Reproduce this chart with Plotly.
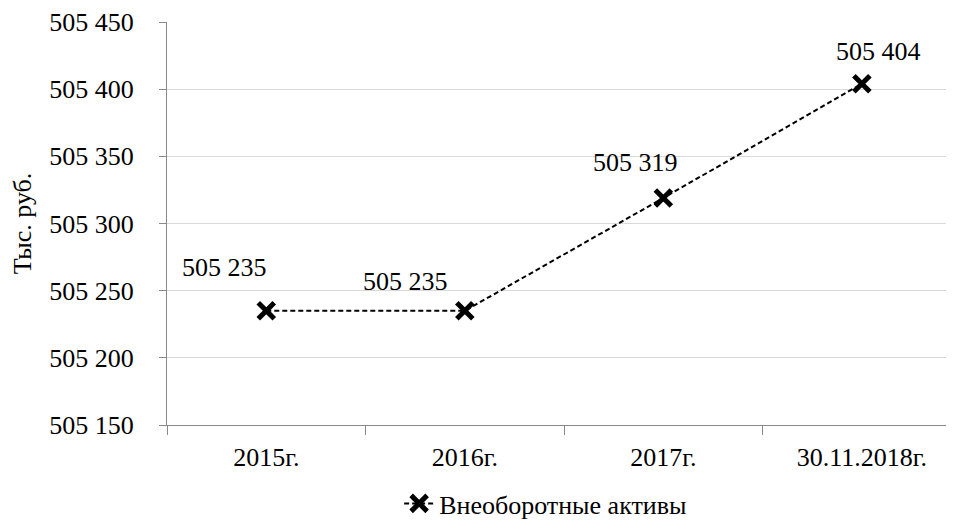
import plotly.graph_objects as go

categories = ["2015г.", "2016г.", "2017г.", "30.11.2018г."]
values = [505235, 505235, 505319, 505404]
series_name = "Внеоборотные активы"
y_title = "Тыс. руб."
y_ticks = [505150, 505200, 505250, 505300, 505350, 505400, 505450]

# label offsets (px) relative to the points
label_shifts = [(-42, 43), (-59, 29), (-28, 35), (17, 32)]

FONT = "Liberation Serif"
FS = 26

def fmt(v):
    return f"{v:,}".replace(",", " ")

fig = go.Figure()
fig.add_trace(go.Scatter(
    x=categories, y=values, name=series_name, mode="lines+markers",
    line=dict(color="black", width=2, dash="5px,3px"),
    marker=dict(symbol="x-thin", size=16, line=dict(color="black", width=5), color="black"),
))

for c, v, (dx, dy) in zip(categories, values, label_shifts):
    fig.add_annotation(x=c, y=v, text=fmt(v), showarrow=False,
                       xshift=dx, yshift=dy, font=dict(family=FONT, size=FS, color="black"))

fig.update_layout(
    width=954, height=526,
    margin=dict(l=159, r=8, t=14, b=109, autoexpand=False),
    paper_bgcolor="white", plot_bgcolor="white",
    font=dict(family=FONT, size=FS, color="black"),
    showlegend=True,
    legend=dict(orientation="h", xref="container", yref="container",
                x=0.41, xanchor="left", y=0.058, yanchor="middle",
                bgcolor="rgba(0,0,0,0)",
                font=dict(family=FONT, size=FS, color="black")),
)
fig.update_xaxes(
    type="category", range=[-0.5, 3.464], automargin=False,
    showline=True, linecolor="#898989", linewidth=1.3,
    ticks="outside", ticklen=9, tickcolor="#898989", tickwidth=1.3,
    tickson="boundaries", showgrid=False, ticklabelstandoff=9,
)
fig.update_yaxes(
    range=[505150, 505450], tickvals=y_ticks, automargin=False,
    ticktext=[fmt(t) for t in y_ticks],
    showline=True, linecolor="#898989", linewidth=1.3,
    ticks="outside", ticklen=7, tickcolor="#898989", tickwidth=1.3,
    showgrid=True, gridcolor="#d9d9d9", gridwidth=1.3,
    zeroline=False, ticklabelstandoff=20,
    title=dict(text=y_title, standoff=21, font=dict(family=FONT, size=FS)),
)

fig.write_html("out.html")
